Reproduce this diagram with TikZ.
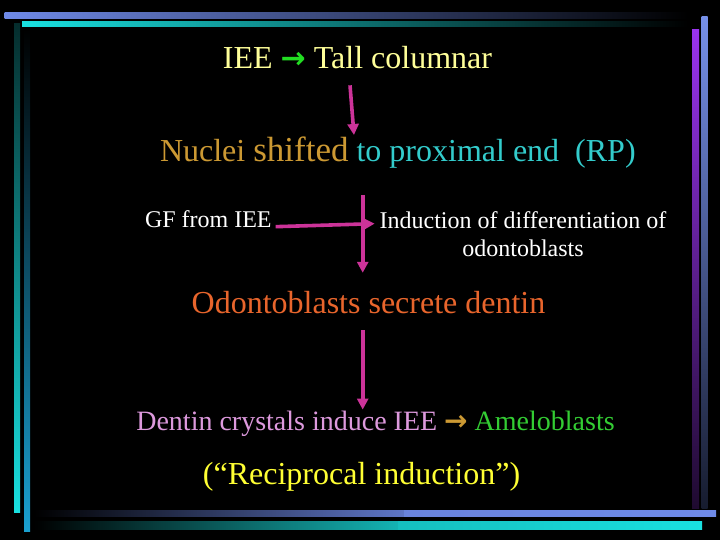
\documentclass[tikz,border=0pt]{standalone}
\usepackage{fontspec}
\setmainfont{Liberation Serif}
\newfontfamily\arrowfont{DejaVu Sans}
\usetikzlibrary{arrows.meta}
\definecolor{periw}{HTML}{6F8AE8}
\definecolor{cyanbar}{HTML}{19E0E0}
\definecolor{purplebar}{HTML}{9933EE}
\definecolor{lightyellow}{HTML}{FFFF99}
\definecolor{arrgreen}{HTML}{22DD22}
\definecolor{goldT}{HTML}{CC9933}
\definecolor{cyanT}{HTML}{33CCCC}
\definecolor{orangeT}{HTML}{E8652C}
\definecolor{pinkT}{HTML}{DD99DD}
\definecolor{greenT}{HTML}{33CC33}
\definecolor{yellowT}{HTML}{FFFF33}
\definecolor{magentaA}{HTML}{CC3399}
\tikzset{
  txt/.style={inner sep=0pt, outer sep=0pt},
  big/.style={font=\fontsize{32}{38}\selectfont},
  mid/.style={font=\fontsize{28}{34}\selectfont},
  small/.style={font=\fontsize{24}{28}\selectfont},
  arr/.style={draw=magentaA, line width=3.6pt, -{Triangle[length=11pt,width=11pt]}},
}
\begin{document}
\begin{tikzpicture}[x=1pt,y=-1pt]
\fill[black] (0,0) rectangle (720,540);
\useasboundingbox (0,0) rectangle (720,540);
% frame bars
\shade[left color=periw, right color=black] (4.6,13) rectangle (688,18.3);
\shade[left color=cyanbar, right color=black] (22,22) rectangle (688,26.7);
\shade[top color=periw!95!white, bottom color=periw!20!black] (701.7,16.5) rectangle (707.7,508);
\shade[top color=purplebar, bottom color=purplebar!20!black] (692,30) rectangle (699,508);
\shade[left color=black, right color=periw!85!black] (34,510) rectangle (404,516.7);
\shade[left color=periw!95!black, right color=periw] (404,510) rectangle (716,516.7);
\shade[left color=black, right color=cyanbar!80!black] (34,521.7) rectangle (398,529);
\shade[left color=cyanbar!85!black, right color=cyanbar] (398,521.7) rectangle (702,529);
\shade[top color=black!80!cyanbar, bottom color=cyanbar] (14,24) rectangle (20,512);
\shade[top color=black, bottom color={rgb,255:red,26;green,160;blue,208}] (24,29) rectangle (30,531);
% texts
\node[txt, big, anchor=base, text=lightyellow] (tall) at (357.5,69)
  {IEE {\color{arrgreen}\fontsize{30}{36}\arrowfont\bfseries →} Tall columnar};
\node[txt, big, anchor=base west] (nuc) at (160,161.5)
  {{\color{goldT}Nuclei {\fontsize{35}{40}\selectfont shifted}} {\color{cyanT}to proximal end\ \ (RP)}};
\node[txt, small, anchor=base west, text=white] (gf) at (145,228) {GF from IEE};
\node[txt, small, anchor=north, align=center, text=white] (ind) at (523,211.5)
  {Induction of differentiation of\\odontoblasts};
\node[txt, big, anchor=base, text=orangeT] (odo) at (368.5,313) {Odontoblasts secrete dentin};
\node[txt, mid, anchor=base] (dent) at (375.5,430)
  {{\color{pinkT}Dentin crystals induce IEE} {\color{goldT}\arrowfont\bfseries →} {\color{greenT}Ameloblasts}};
\node[txt, big, anchor=base, text=yellowT] (rec) at (361.5,484) {(“Reciprocal induction”)};
% connectors
\coordinate (a1tip) at (354,135);
\draw[arr] ([xshift=-7.5pt,yshift=-16pt]tall.south) -- (a1tip);
\coordinate (j1) at (362.7,195);
\draw[arr, shorten >=18pt] (j1) -- (j1 |- odo.north);
\draw[arr] ([xshift=4pt,yshift=-7pt]gf.east) -- ([xshift=-5pt,yshift=-4pt]gf.east -| ind.west);
\draw[arr, shorten <=17pt, shorten >=1pt] (odo.south -| j1) -- (dent.north -| j1);
\end{tikzpicture}
\end{document}
